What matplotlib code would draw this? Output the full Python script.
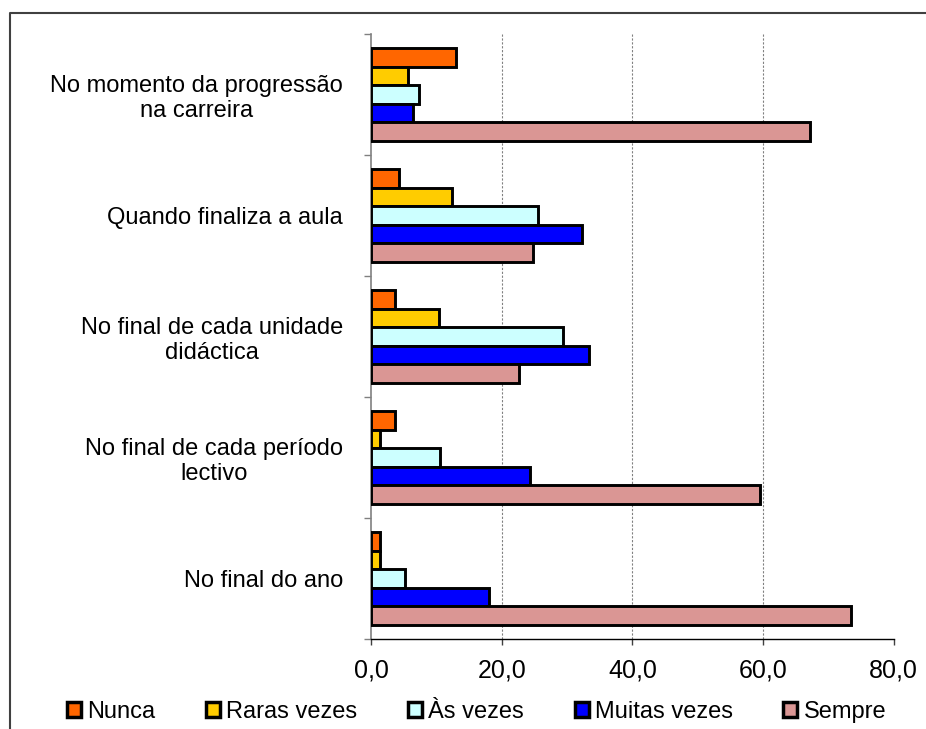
import matplotlib
matplotlib.use("Agg")
import matplotlib.pyplot as plt
from matplotlib.lines import Line2D
import numpy as np

categorias = [
    "No momento da progressão\nna carreira",
    "Quando finaliza a aula",
    "No final de cada unidade\ndidáctica",
    "No final de cada período\nlectivo",
    "No final do ano",
]
series = ["Nunca", "Raras vezes", "Às vezes", "Muitas vezes", "Sempre"]
nunca = [13.0, 4.3, 3.6, 3.7, 1.4]
raras = [5.6, 12.4, 10.4, 1.4, 1.4]
as_vezes = [7.3, 25.6, 29.4, 10.6, 5.2]
muitas = [6.5, 32.3, 33.3, 24.3, 18.1]
sempre = [67.2, 24.8, 22.6, 59.5, 73.4]
xticks = [0, 20, 40, 60, 80]
xtick_labels = ["0,0", "20,0", "40,0", "60,0", "80,0"]

cores = ["#FF6600", "#FFCC00", "#CCFFFF", "#0000FF", "#DA9694"]

plt.rcParams["font.family"] = ["Liberation Sans", "DejaVu Sans"]

fig = plt.figure(figsize=(9.26, 7.29), dpi=100)
ax = fig.add_axes([371 / 926, 1 - 639 / 729, (893.7 - 371) / 926, (639 - 34) / 729])

valores = [nunca, raras, as_vezes, muitas, sempre]
y = np.arange(len(categorias))
h = 0.764 / len(series)
for j, (nome, vals) in enumerate(zip(series, valores)):
    ax.barh(y + (j - 2) * h, vals, height=h, color=cores[j],
            edgecolor="black", linewidth=2.1, label=nome, zorder=3)

ax.set_xlim(0, 80)
ax.set_ylim(len(categorias) - 0.5, -0.5)

ax.set_xticks(xticks, xtick_labels)
ax.tick_params(axis="x", length=4, width=1, color="#404040", pad=10, labelsize=18)

ax.set_yticks(y, categorias)
for t in ax.get_yticklabels():
    t.set_multialignment("center")
ax.set_yticks(np.arange(-0.5, len(categorias)), minor=True)
ax.tick_params(axis="y", which="major", length=0, pad=20, labelsize=17)
ax.tick_params(axis="y", which="minor", length=5, width=1, color="#808080")

for v in [20, 40, 60]:
    ax.axvline(v, color="#808080", linestyle=(0, (2, 1.5)), linewidth=0.8, zorder=1)

for lado in ["top", "right"]:
    ax.spines[lado].set_visible(False)
ax.spines["left"].set_color("#808080")
ax.spines["left"].set_linewidth(1.2)
ax.spines["bottom"].set_color("black")
ax.spines["bottom"].set_linewidth(1)

leg = fig.legend(loc="center left", bbox_to_anchor=(67 / 926, 1 - 712 / 729),
                 ncol=5, frameon=False, fontsize=17,
                 handlelength=0.6, handleheight=0.6, handletextpad=0.25,
                 columnspacing=2.15, borderaxespad=0, borderpad=0)
for p in leg.get_patches():
    p.set_linewidth(2.5)

# moldura do gráfico
x0, y0 = 9.5 / 926, 1 - 13 / 729
fig.add_artist(Line2D([x0, x0, 1.01], [-0.01, y0, y0], transform=fig.transFigure,
                      color="#404040", linewidth=1.5))

fig.savefig("out.png", dpi=100)
